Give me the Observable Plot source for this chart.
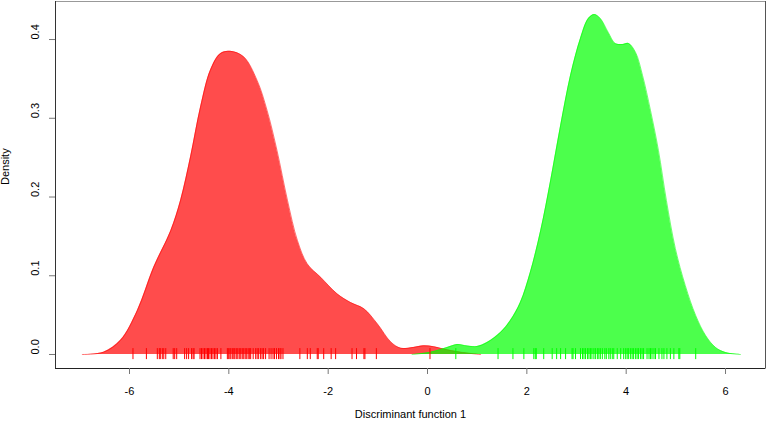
<!DOCTYPE html>
<html>
<head>
<meta charset="utf-8">
<script src="https://cdn.jsdelivr.net/npm/d3@7"></script>
<script src="https://cdn.jsdelivr.net/npm/@observablehq/plot@0.6"></script>
<style>
  html, body { margin: 0; padding: 0; background: #fff; }
  #chart svg { display: block; }
</style>
</head>
<body>
<div id="chart"></div>
<script>
// Density curve of group 1 (red)
const redX = [-6.95,-6.52,-6.18,-5.84,-5.51,-5.17,-4.97,-4.77,-4.57,-4.37,-4.17,-3.97,-3.70,-3.43,-3.23,-3.03,-2.82,-2.62,-2.42,-2.15,-1.82,-1.55,-1.28,-1.01,-0.74,-0.54,-0.28,-0.08,0.12,0.32,0.66,1.07];
const redY = [0,0.003,0.018,0.056,0.111,0.157,0.196,0.251,0.314,0.361,0.382,0.385,0.378,0.348,0.310,0.259,0.196,0.145,0.115,0.098,0.077,0.066,0.058,0.039,0.016,0.008,0.009,0.011,0.010,0.007,0.003,0];
// Density curve of group 2 (green)
const greenX = [-0.31,0.06,0.40,0.60,0.80,1.00,1.20,1.47,1.67,1.87,2.07,2.28,2.48,2.68,2.88,3.08,3.24,3.36,3.48,3.64,3.78,3.93,4.05,4.19,4.33,4.49,4.65,4.81,4.99,5.19,5.40,5.60,5.80,6.00,6.30];
const greenY = [0,0.003,0.009,0.0127,0.0108,0.0102,0.0152,0.0279,0.0432,0.066,0.1041,0.1575,0.221,0.2905,0.3543,0.4013,0.4267,0.4317,0.4267,0.4089,0.3949,0.3937,0.3949,0.3835,0.3543,0.3098,0.2591,0.1956,0.1346,0.0876,0.0495,0.0241,0.0089,0.0025,0];
// Rug: individual discriminant scores
const redRug = [-5.93,-5.66,-5.44,-5.40,-5.38,-5.34,-5.31,-5.27,-5.12,-5.09,-5.05,-4.89,-4.85,-4.81,-4.75,-4.72,-4.70,
  -4.58,-4.55,-4.52,-4.49,-4.46,-4.43,-4.41,-4.38,-4.35,-4.32,-4.29,-4.26,-4.23,-4.16,
  -4.03,-4.01,-3.98,-3.96,-3.93,-3.90,-3.88,-3.85,-3.82,-3.79,-3.76,-3.73,-3.70,-3.67,-3.64,-3.61,-3.58,-3.56,
  -3.51,-3.46,-3.43,-3.40,-3.36,-3.33,-3.30,-3.26,-3.19,-3.15,-3.11,-3.08,-3.04,-3.00,-2.97,-2.95,-2.91,
  -2.57,-2.42,-2.36,-2.22,-2.20,-2.09,-1.94,-1.85,-1.52,-1.43,-1.28,-1.26,-1.03,0.05];
const greenRug = [0.57,1.42,1.72,1.94,2.14,2.17,2.19,2.34,2.51,2.60,2.68,2.78,2.91,2.93,2.98,
  3.08,3.12,3.15,3.18,3.22,3.25,3.28,3.31,3.35,3.38,3.42,3.45,3.48,3.52,3.57,3.60,3.65,3.68,3.72,3.75,
  3.82,3.89,3.95,3.99,4.02,4.05,4.09,4.12,4.15,4.19,4.22,4.25,4.29,4.32,4.35,4.42,4.46,
  4.49,4.52,4.56,4.59,4.66,4.72,4.76,4.82,4.89,4.96,5.06,5.08,5.40];
// Axes
const xTicks = [-6,-4,-2,0,2,4,6];
const yTicks = [0,0.1,0.2,0.3,0.4];
const xDomain = [-7.49, 6.805];
const yDomain = [-0.01778, 0.4483];
const xLabel = "Discriminant function 1";
const yLabel = "Density";

const red = redX.map((x, i) => ({x, y: redY[i]}));
const green = greenX.map((x, i) => ({x, y: greenY[i]}));

const font = "'Liberation Sans', Arial, Helvetica, sans-serif";

const chart = Plot.plot({
  width: 767,
  height: 423,
  marginLeft: 55,
  marginRight: 2,
  marginTop: 1,
  marginBottom: 55,
  style: {fontFamily: font, fontSize: "11px", background: "#fff", color: "#000"},
  x: {domain: xDomain, axis: null},
  y: {domain: yDomain, axis: null},
  marks: [
    Plot.areaY(red, {x: "x", y: "y", fill: "#ff0000", fillOpacity: 0.7, curve: "catmull-rom"}),
    Plot.lineY(red, {x: "x", y: "y", stroke: "#ff0000", strokeOpacity: 0.55, strokeWidth: 1, curve: "catmull-rom"}),
    Plot.areaY(green, {x: "x", y: "y", fill: "#00ff00", fillOpacity: 0.7, curve: "catmull-rom"}),
    Plot.lineY(green, {x: "x", y: "y", stroke: "#00ff00", strokeOpacity: 0.55, strokeWidth: 1, curve: "catmull-rom"}),
    Plot.ruleX(redRug, {x: d => d, y1: -0.0065, y2: 0.0075, stroke: "#ff0000", strokeWidth: 1}),
    Plot.ruleX(greenRug, {x: d => d, y1: -0.0065, y2: 0.0075, stroke: "#00ff00", strokeWidth: 1}),
    Plot.frame({stroke: "#999"}),
    Plot.ruleX([xDomain[0]], {stroke: "#333"}),
    Plot.ruleX([xDomain[1]], {stroke: "#555"}),
    Plot.ruleY([yDomain[0]], {stroke: "#222"}),
    Plot.axisX({ticks: xTicks, tickSize: 6, tickPadding: 13, stroke: "#777", fontSize: 11, label: null, tickFormat: d => String(d)}),
    Plot.axisY({ticks: yTicks, tickSize: 6, stroke: "#777", tickFormat: () => "", label: null}),
    Plot.text(yTicks, {frameAnchor: "left", y: d => d, text: d => d.toFixed(1), rotate: -90, dx: -20, fontSize: 11, fill: "#000"}),
    Plot.text([xLabel], {frameAnchor: "bottom", text: d => d, dy: 49, fontSize: 11, fill: "#000"}),
    Plot.text([yLabel], {frameAnchor: "left", text: d => d, rotate: -90, dx: -50, fontSize: 11, fill: "#000"})
  ]
});
document.getElementById("chart").appendChild(chart);
</script>
</body>
</html>
